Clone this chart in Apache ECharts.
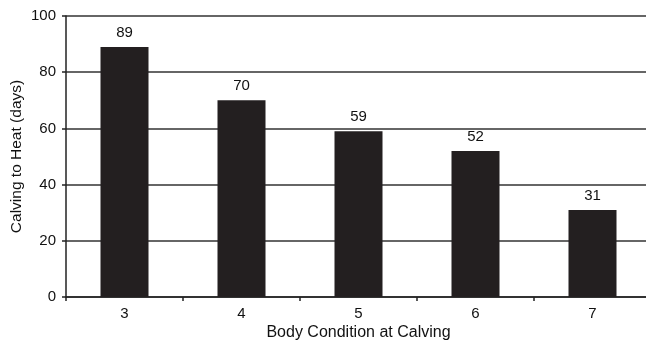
<!DOCTYPE html>
<html>
<head>
<meta charset="utf-8">
<script src="https://cdn.jsdelivr.net/npm/echarts@6/dist/echarts.min.js"></script>
<style>
  html, body { margin: 0; padding: 0; background: #fff; }
  #chart { width: 646px; height: 345px; }
</style>
</head>
<body>
<div id="chart"></div>
<script>
// Body condition score at calving
const categories = ['3', '4', '5', '6', '7'];
// Days from calving to first heat
const daysToHeat = [89, 70, 59, 52, 31];

const chart = echarts.init(document.getElementById('chart'), null, { renderer: 'canvas' });
const font = 'Liberation Sans, Arial, sans-serif';
const ink = '#111111';

chart.setOption({
  animation: false,
  backgroundColor: '#ffffff',
  grid: { left: 66, right: -5, top: 16, bottom: 48, containLabel: false, outerBoundsMode: 'none' },
  xAxis: {
    type: 'category',
    data: categories,
    name: 'Body Condition at Calving',
    nameLocation: 'middle',
    nameGap: 28,
    nameMoveOverlap: false,
    nameTextStyle: { color: ink, fontSize: 16, fontFamily: font },
    axisLine: { lineStyle: { color: '#222', width: 1.5 } },
    axisTick: { show: true, length: 4, alignWithLabel: false, lineStyle: { color: '#222', width: 1.5 } },
    axisLabel: { color: ink, fontSize: 15, fontFamily: font, margin: 9 }
  },
  yAxis: {
    type: 'value',
    min: 0,
    max: 100,
    interval: 20,
    name: 'Calving to Heat (days)',
    nameLocation: 'middle',
    nameGap: 41,
    nameMoveOverlap: false,
    nameTextStyle: { color: ink, fontSize: 15.5, fontFamily: font },
    axisLine: { show: true, lineStyle: { color: '#222', width: 1.5 } },
    axisTick: { show: true, length: 4, lineStyle: { color: '#222', width: 1.5 } },
    axisLabel: { color: ink, fontSize: 15, fontFamily: font, margin: 10 },
    splitLine: { show: true, lineStyle: { color: '#333', width: 1.5 } }
  },
  series: [{
    type: 'bar',
    data: daysToHeat,
    barWidth: 48,
    itemStyle: { color: '#231f20' },
    label: {
      show: true,
      position: 'top',
      distance: 7,
      color: ink,
      fontSize: 15,
      fontFamily: font
    }
  }]
});
</script>
</body>
</html>
